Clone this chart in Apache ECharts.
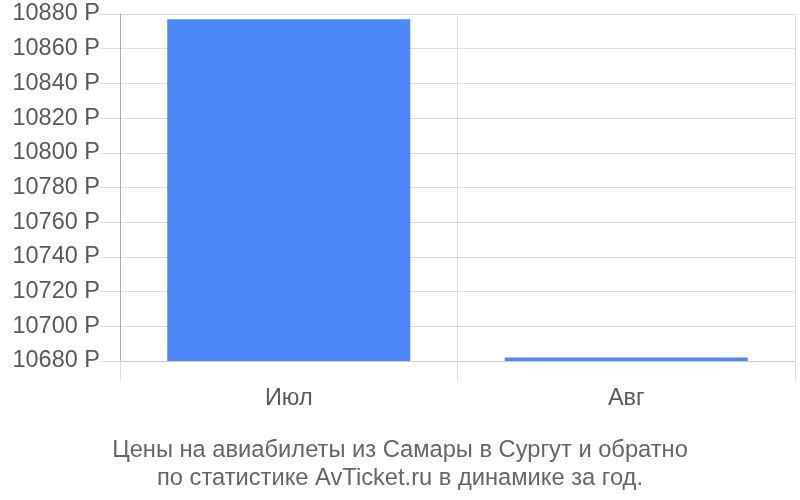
<!DOCTYPE html>
<html>
<head>
<meta charset="utf-8">
<script src="https://cdn.jsdelivr.net/npm/echarts@6/dist/echarts.min.js"></script>
<style>html,body{margin:0;padding:0;background:#fff}#c{width:800px;height:500px}</style>
</head>
<body>
<div id="c"></div>
<script>
var categories = ['Июл', 'Авг'];
var prices = [10877, 10682];
var yTicks = [10680, 10700, 10720, 10740, 10760, 10780, 10800, 10820, 10840, 10860, 10880];
var titleLines = ['Цены на авиабилеты из Самары в Сургут и обратно', 'по статистике AvTicket.ru в динамике за год.'];

var FONT = 'Liberation Sans, Arial, sans-serif';
var chart = echarts.init(document.getElementById('c'), null, {renderer: 'canvas'});
chart.setOption({
  animation: false,
  textStyle: {fontFamily: FONT},
  title: {
    text: titleLines.join('\n'),
    left: 'center',
    top: 431,
    textStyle: {fontSize: 23.7, fontWeight: 'normal', color: '#666', lineHeight: 28, fontFamily: FONT}
  },
  grid: {left: 120, right: 5, top: 14, bottom: 139, containLabel: false},
  xAxis: {
    type: 'category',
    data: categories,
    boundaryGap: true,
    axisLine: {show: true, lineStyle: {color: '#ccc', width: 1}},
    axisTick: {show: true, length: 20, alignWithLabel: false, lineStyle: {color: '#ddd'}},
    splitLine: {show: true, interval: 0, lineStyle: {color: '#ddd'}},
    axisLabel: {color: '#5a5a5a', fontSize: 23.5, margin: 26, fontFamily: FONT}
  },
  yAxis: {
    type: 'value',
    min: yTicks[0],
    max: yTicks[yTicks.length - 1],
    interval: yTicks[1] - yTicks[0],
    axisLine: {show: true, lineStyle: {color: '#aaa'}},
    axisTick: {show: true, length: 20, lineStyle: {color: '#ddd'}},
    splitLine: {show: true, lineStyle: {color: '#ddd'}},
    axisLabel: {color: '#5a5a5a', fontSize: 23.5, margin: 20, formatter: function (v) { return v + ' Р'; }, fontFamily: FONT}
  },
  series: [{
    type: 'bar',
    data: prices,
    barWidth: '72%',
    itemStyle: {color: '#4d88f9'}
  }]
});
</script>
</body>
</html>
